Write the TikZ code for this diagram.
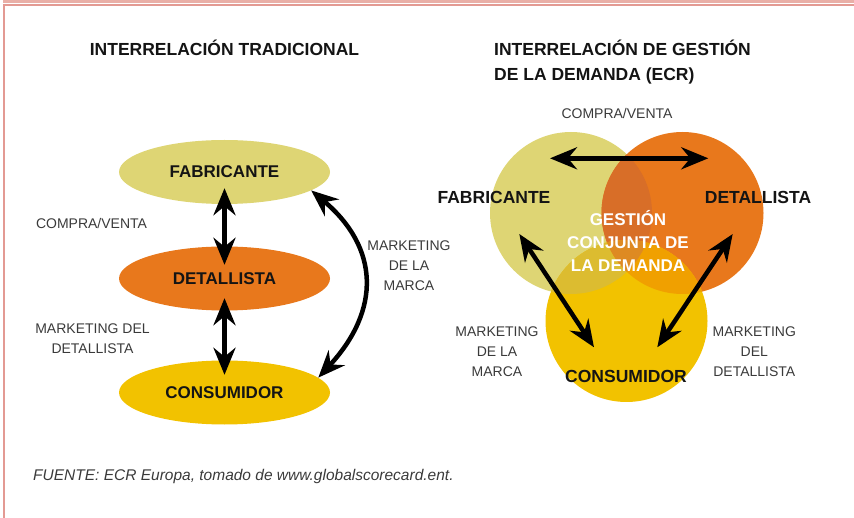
\documentclass[tikz,border=0pt]{standalone}
\usepackage{fontspec}
\setmainfont{Liberation Sans}
\usetikzlibrary{shapes.geometric,arrows.meta}
\definecolor{cFab}{HTML}{DED574}
\definecolor{cDet}{HTML}{E8781C}
\definecolor{cCon}{HTML}{F2C200}
\definecolor{cFD}{HTML}{D86E28}
\definecolor{cFC}{HTML}{DCBC30}
\definecolor{cDC}{HTML}{F0A000}
\definecolor{cFDC}{HTML}{DE8A22}
\definecolor{cBand}{HTML}{E9AFA7}
\definecolor{cLine}{HTML}{E39A93}
\definecolor{cTxt}{HTML}{3A3A3A}
\begin{document}
\begin{tikzpicture}[x=1pt,y=-1pt,
  ell/.style={ellipse, minimum width=211pt, minimum height=64pt, inner sep=0pt,
    font=\fontsize{17}{20}\selectfont\bfseries, text=black!92},
  venn/.style={circle, minimum size=162pt, inner sep=0pt},
  nlab/.style={font=\fontsize{17.5}{20}\selectfont\bfseries, text=black!92, inner sep=0pt, anchor=base},
  lab/.style={font=\fontsize{14}{20}\selectfont, text=cTxt, align=center, inner sep=0pt, anchor=base},
  ttl/.style={font=\fontsize{17.5}{25}\selectfont\bfseries, text=black!92, inner sep=0pt, align=left, anchor=base west},
  arr/.style={line width=4.5pt, {Stealth[length=27pt,width=22pt,inset=9pt]}-{Stealth[length=27pt,width=22pt,inset=9pt]}}
]
\useasboundingbox (0,0) rectangle (854,518);
% frame
\fill[cBand] (3,0) rectangle (854,3);
\fill[cLine] (3,4.3) rectangle (854,6.3);
\fill[cLine] (3,4.3) rectangle (5,518);

% titles (base anchor = baseline of the last line)
\node[ttl, anchor=base] (t1) at (224.5,55.5) {INTERRELACIÓN TRADICIONAL};
\node[ttl] (t2) at (494,80.5) {INTERRELACIÓN DE GESTIÓN\\DE LA DEMANDA (ECR)};

% left diagram
\node[ell, fill=cFab] (fab) at (224.5,172) {FABRICANTE};
\node[ell, fill=cDet] (det) at (224.5,278.5) {DETALLISTA};
\node[ell, fill=cCon] (cons) at (224.5,392.5) {CONSUMIDOR};

\draw[arr, shorten <=-16pt, shorten >=-18.5pt] (fab) -- (det);
\draw[arr, shorten <=-12.5pt, shorten >=-14.5pt] (det) -- (cons);
\draw[arr] (fab.-12) .. controls +(68,57) and +(63,-68) .. (cons.9);

\node[lab] (lcv) at (91.5,229) {COMPRA/VENTA};
\node[lab, font=\fontsize{14}{19.5}\selectfont] (lmd) at (92.5,353.5) {MARKETING DEL\\DETALLISTA};
\node[lab] (lmm) at (409,291) {MARKETING\\DE LA\\MARCA};

% right diagram
\node[venn, fill=cFab] (cf) at (571,213) {};
\node[venn, fill=cDet] (cd) at (682.5,213) {};
\node[venn, fill=cCon] (cc) at (626.5,321) {};
\begin{scope}
  \clip (cf.center) circle[radius=81pt];
  \fill[cFD] (cd.center) circle[radius=81pt];
\end{scope}
\begin{scope}
  \clip (cf.center) circle[radius=81pt];
  \fill[cFC] (cc.center) circle[radius=81pt];
\end{scope}
\begin{scope}
  \clip (cd.center) circle[radius=81pt];
  \fill[cDC] (cc.center) circle[radius=81pt];
\end{scope}
\begin{scope}
  \clip (cf.center) circle[radius=81pt];
  \clip (cd.center) circle[radius=81pt];
  \fill[cFDC] (cc.center) circle[radius=81pt];
\end{scope}

\node[nlab] (rfab) at (494,203.4) {FABRICANTE};
\node[nlab] (rdet) at (758,203.4) {DETALLISTA};
\node[nlab] (rcon) at (626,382.2) {CONSUMIDOR};
\node[nlab, text=white, align=center, font=\fontsize{17}{23}\selectfont\bfseries] (ges) at (628,272) {GESTIÓN\\CONJUNTA DE\\LA DEMANDA};

\node[lab] (rcv) at (617,119) {COMPRA/VENTA};
\node[lab] (rmm) at (497,377) {MARKETING\\DE LA\\MARCA};
\node[lab] (rmd) at (754.3,377) {MARKETING\\DEL\\DETALLISTA};

\coordinate (hA) at (550,158.3);
\coordinate (hB) at (708.3,158.3);
\coordinate (lA) at (519.3,234);
\coordinate (lB) at (594,347.3);
\coordinate (rA) at (732.7,234);
\coordinate (rB) at (657.3,347.3);
\draw[arr] (hA) -- (hB);
\draw[arr] (lA) -- (lB);
\draw[arr] (rA) -- (rB);

% source
\node[font=\fontsize{15.5}{18}\selectfont\itshape, text=cTxt, inner sep=0pt, anchor=base west] (src) at (33,480.5) {FUENTE: ECR Europa, tomado de www.globalscorecard.ent.};
\end{tikzpicture}
\end{document}
